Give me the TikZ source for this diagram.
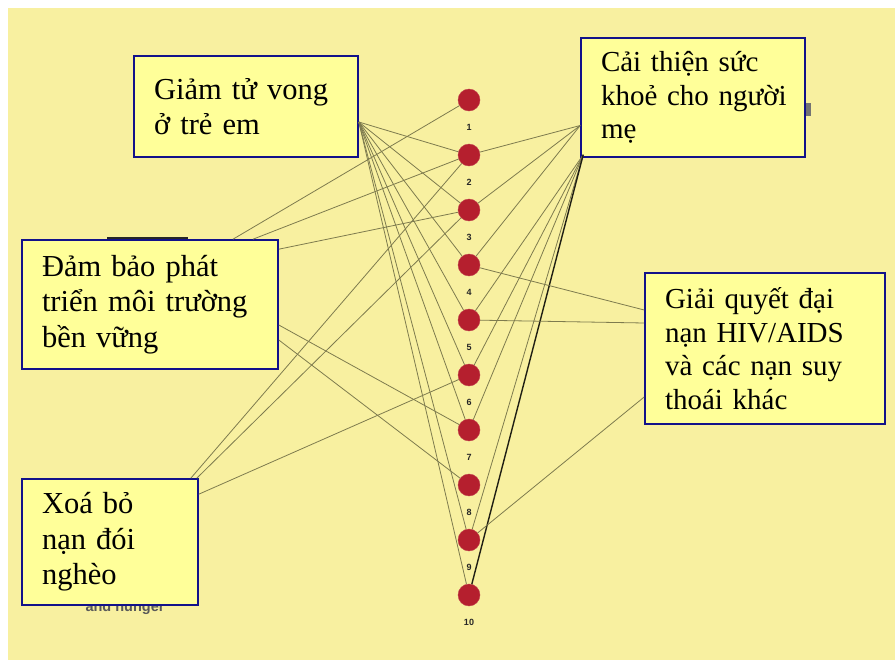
\documentclass[tikz,border=0pt]{standalone}
\usepackage{fontspec}
\setmainfont[WordSpace=1.3]{Liberation Serif}
\newfontfamily\numfont{Liberation Sans}
\usetikzlibrary{matrix}

\definecolor{bgyellow}{HTML}{F8F0A0}
\definecolor{boxyellow}{HTML}{FFFF99}
\definecolor{boxblue}{HTML}{12128A}
\definecolor{wire}{HTML}{7E7B4E}
\definecolor{dotred}{HTML}{B51F2E}

\tikzset{
  goal/.style={draw=boxblue, line width=1.6pt, fill=boxyellow, align=left,
    inner xsep=20pt, inner ysep=0pt, font=\fontsize{29}{33.5}\selectfont},
  biggoal/.style={goal, font=\fontsize{30.5}{35.5}\selectfont},
  dot/.style={circle, fill=dotred, draw=dotred!85!white, minimum size=22pt, inner sep=0pt},
  num/.style={rectangle, fill=none, draw=none, minimum size=0pt,
    font=\numfont\bfseries\fontsize{9}{9}\selectfont, text=black!85, inner sep=1pt},
  link/.style={draw=wire, line width=0.8pt},
  thicklink/.style={draw=black!75!wire, line width=1.4pt},
  remnant/.style={font=\numfont\bfseries\fontsize{14.5}{14.5}\selectfont, text=black!65, inner sep=0pt}
}

\begin{document}
\begin{tikzpicture}[x=1pt,y=-1pt]
  \useasboundingbox (0,0) rectangle (895,660);
  \fill[bgyellow] (8,8) rectangle (895,660);

  % bits of the slide underneath
  \fill[black!85] (107,237) rectangle (188,241);
  \fill[black!55] (806,103) rectangle (811,116);
  \node[remnant, anchor=base] (hunger) at (125,611) {and hunger};

  % the ten numbered dots
  \matrix (m) [matrix of nodes, nodes in empty cells, row sep={55pt,between origins},
    nodes={dot, label distance=12pt}, every label/.style={num},
    anchor=m-1-1.center] at (469,100)
  {
    |[label=below:1]| \\
    |[label=below:2]| \\
    |[label=below:3]| \\
    |[label=below:4]| \\
    |[label=below:5]| \\
    |[label=below:6]| \\
    |[label=below:7]| \\
    |[label=below:8]| \\
    |[label=below:9]| \\
    |[label=below:10]| \\
  };

  % goals
  \node[biggoal, text width=184pt, minimum height=101pt] (g1) at (246,106.5)
    {Giảm tử vong\\ở trẻ em};
  \node[goal, text width=184pt, minimum height=119pt] (g2) at (693,97.5)
    {Cải thiện sức\\khoẻ~cho~người\\mẹ};
  \node[biggoal, text width=216pt, minimum height=129pt] (g3) at (150,304.5)
    {Đảm bảo phát\\triển môi trường\\bền vững};
  \node[goal, text width=200pt, minimum height=151pt] (g4) at (765,348.5)
    {Giải quyết đại\\nạn HIV/AIDS\\và các nạn suy\\thoái khác};
  \node[biggoal, text width=136pt, minimum height=126pt] (g5) at (110,542)
    {Xoá bỏ\\nạn đói\\nghèo};

  % where the links leave the boxes
  \coordinate (g1o) at ([yshift=-15.5pt]g1.east);
  \coordinate (g2a) at ([yshift=-28pt]g2.west);
  \coordinate (g2b) at ([xshift=3pt,yshift=3pt]g2.south west);
  \coordinate (g3a) at ([xshift=83pt]g3.north);
  \coordinate (g3b) at ([xshift=103pt]g3.north);
  \coordinate (g3c) at ([yshift=-10pt]g3.north east);
  \coordinate (g3d) at ([yshift=-20.5pt]g3.east);
  \coordinate (g3e) at ([yshift=-35.5pt]g3.east);
  \coordinate (g4a) at ([yshift=38.5pt]g4.west);
  \coordinate (g4b) at ([yshift=25.5pt]g4.west);
  \coordinate (g4c) at ([yshift=-48.5pt]g4.west);
  \coordinate (g5a) at ([xshift=-8pt]g5.north east);
  \coordinate (g5b) at ([xshift=-2pt]g5.north east);
  \coordinate (g5c) at ([yshift=-16pt]g5.north east);

  \path[link]
    (g1o) edge (m-2-1) edge (m-3-1) edge (m-4-1) edge (m-5-1)
          edge (m-6-1) edge (m-7-1) edge (m-9-1) edge (m-10-1)
    (g2a) edge (m-2-1) edge (m-3-1) edge (m-4-1)
    (g2b) edge (m-5-1) edge (m-6-1) edge (m-7-1) edge (m-9-1)
          edge[thicklink] (m-10-1)
    (g3a) edge (m-1-1)
    (g3b) edge (m-2-1)
    (g3c) edge (m-3-1)
    (g3d) edge (m-7-1)
    (g3e) edge (m-8-1)
    (g4a) edge (m-4-1)
    (g4b) edge (m-5-1)
    (g4c) edge (m-9-1)
    (g5a) edge (m-2-1)
    (g5b) edge (m-3-1)
    (g5c) edge (m-6-1);
\end{tikzpicture}
\end{document}
